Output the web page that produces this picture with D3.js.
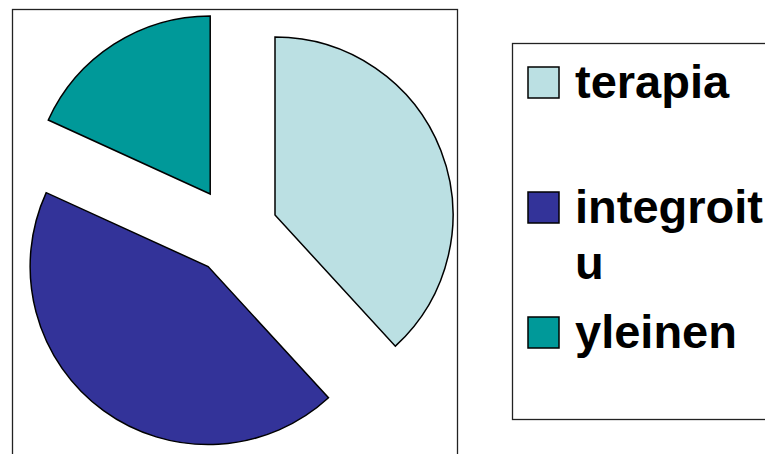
<!DOCTYPE html>
<html>
<head>
<meta charset="utf-8">
<script src="https://cdn.jsdelivr.net/npm/d3@7"></script>
<style>
  body { margin: 0; background: #fff; }
  svg { display: block; font-family: "Liberation Sans", Arial, sans-serif; }
</style>
</head>
<body>
<div id="chart"></div>
<script>
const categories = ["terapia", "integroitu", "yleinen"];
const values = [21, 24, 10];
const colors = ["#BBE0E3", "#333399", "#009999"];

const width = 765, height = 454;
const plotBox = {x: 12, y: 9, w: 445, h: 460};
const legendBox = {x: 512, y: 43, w: 270, h: 376};
const center = {x: 234, y: 231};
const radius = 178;
const explode = 44;

const svg = d3.select("#chart")
    .append("svg")
        .attr("width", width)
        .attr("height", height);

// plot area frame
svg.append("rect")
    .attr("x", plotBox.x + 0.5)
    .attr("y", plotBox.y + 0.5)
    .attr("width", plotBox.w)
    .attr("height", plotBox.h)
    .attr("fill", "none")
    .attr("stroke", "#222")
    .attr("stroke-width", 1.3);

const color = d3.scaleOrdinal()
    .domain(categories)
    .range(colors);

const pie = d3.pie()
    .sort(null)
    .value((d, i) => values[i]);

const arc = d3.arc()
    .innerRadius(0)
    .outerRadius(radius);

const g = svg.append("g")
    .attr("transform", `translate(${center.x},${center.y})`);

g.selectAll("path")
    .data(pie(categories))
    .enter().append("path")
    .attr("d", arc)
    .attr("fill", d => color(d.data))
    .attr("stroke", "#000")
    .attr("stroke-width", 1.5)
    .attr("stroke-linejoin", "miter")
    .attr("transform", d => {
        const mid = (d.startAngle + d.endAngle) / 2;
        return `translate(${explode * Math.sin(mid)},${-explode * Math.cos(mid)})`;
    });

// legend
svg.append("rect")
    .attr("x", legendBox.x + 0.5)
    .attr("y", legendBox.y + 0.5)
    .attr("width", legendBox.w)
    .attr("height", legendBox.h)
    .attr("fill", "#fff")
    .attr("stroke", "#222")
    .attr("stroke-width", 1.3);

const rowY = d3.scalePoint()
    .domain(categories)
    .range([98, 348]);

const swatch = 31;
const textX = 575;
const maxTextWidth = 200;
const lineHeight = 56;

const legend = svg.append("g")
    .attr("font-size", 47)
    .attr("font-weight", "bold")
    .selectAll("g")
    .data(categories)
    .enter().append("g")
    .attr("transform", d => `translate(0,${rowY(d)})`);

legend.append("rect")
    .attr("x", 528)
    .attr("y", -swatch)
    .attr("width", swatch)
    .attr("height", swatch)
    .attr("fill", d => color(d))
    .attr("stroke", "#000")
    .attr("stroke-width", 1.5);

legend.append("text")
    .attr("x", textX)
    .attr("y", 0)
    .attr("fill", "#000")
    .each(function(d) {
        // break the label by characters when it does not fit
        const text = d3.select(this);
        let line = "";
        let lines = [];
        const probe = text.append("tspan");
        for (const ch of d) {
            probe.text(line + ch);
            if (probe.node().getComputedTextLength() > maxTextWidth && line) {
                lines.push(line);
                line = ch;
            } else {
                line += ch;
            }
        }
        lines.push(line);
        probe.remove();
        lines.forEach((l, i) => {
            text.append("tspan")
                .attr("x", textX)
                .attr("y", i * lineHeight)
                .text(l);
        });
    });
</script>
</body>
</html>
